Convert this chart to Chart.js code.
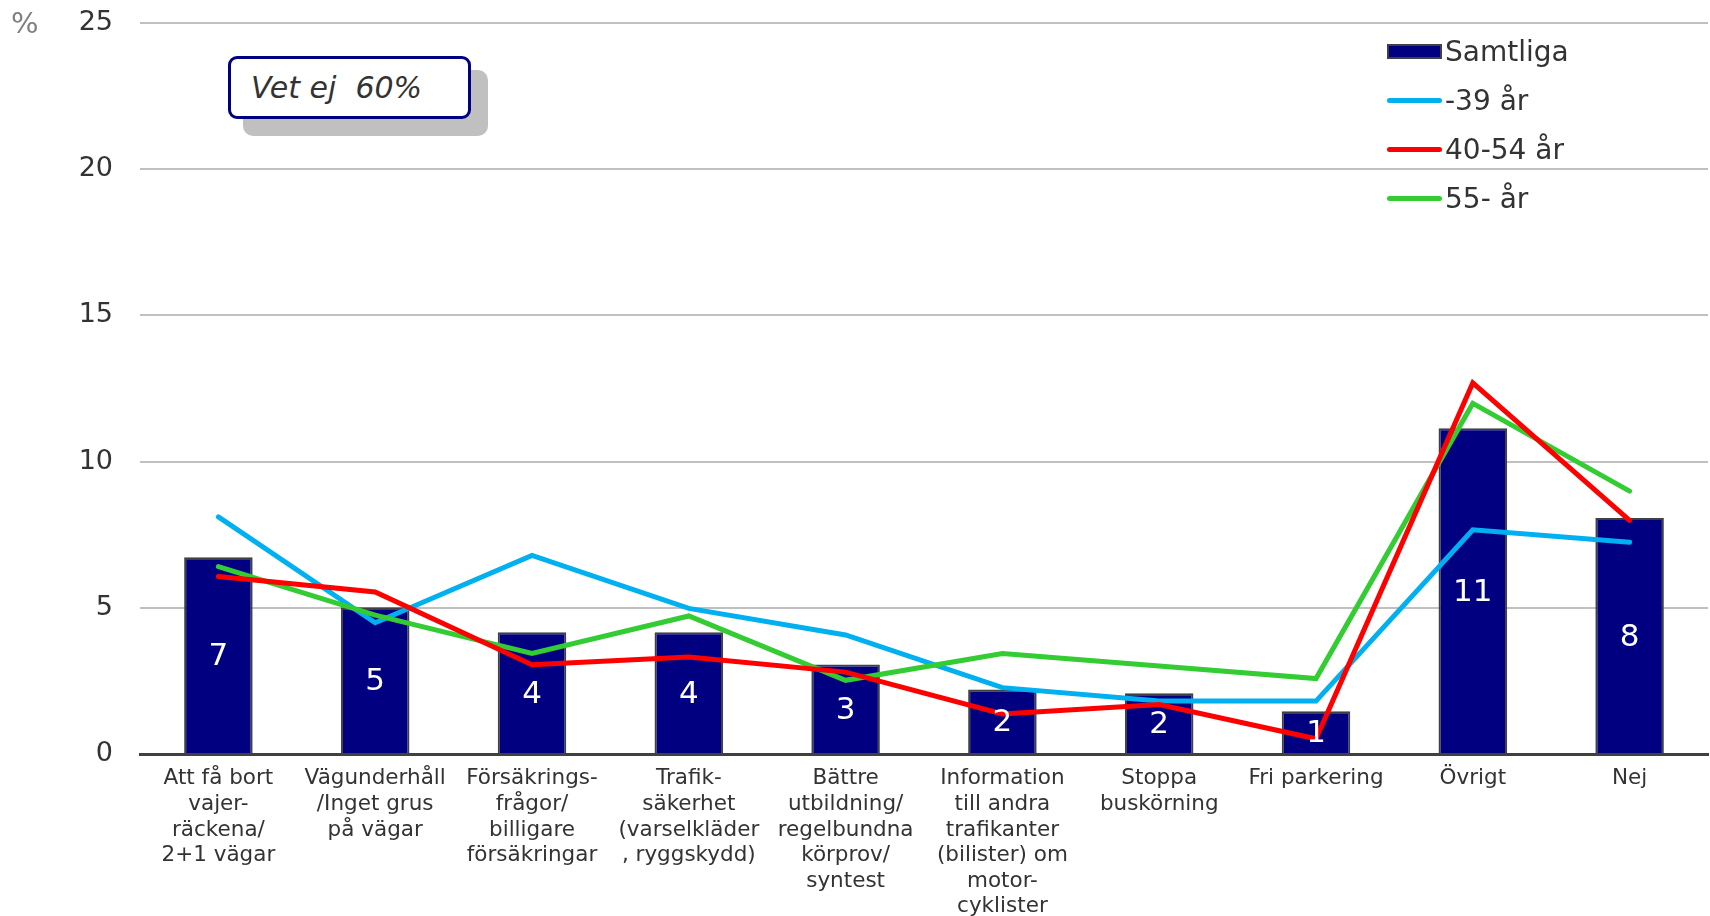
<!DOCTYPE html>
<html>
<head>
<meta charset="utf-8">
<script src="https://cdn.jsdelivr.net/npm/chart.js@4"></script>
<style>
  body { margin: 0; background: #fff; }
  #wrap { position: relative; width: 1710px; height: 916px; font-family: 'DejaVu Sans', Verdana, sans-serif; }
  #pct { position: absolute; left: 11px; top: 6px; font-size: 29px; color: #808080; }
  #note-shadow { position: absolute; left: 243px; top: 70px; width: 245px; height: 66px; background: #c0c0c0; border-radius: 10px; }
  #note { position: absolute; left: 228px; top: 56px; height: 57px; border: 3px solid #000080; border-radius: 9px; background: #fff;
          font-style: italic; font-size: 30px; color: #333; line-height: 57px; padding-left: 20px; width: 217px; white-space: pre; }
  #legend { position: absolute; left: 1387px; top: 27px; }
  .row { height: 49px; display: flex; align-items: center; font-size: 28px; color: #333; }
  .sw { width: 55px; margin-right: 3px; }
</style>
</head>
<body>
<div id="wrap">
  <canvas id="chart" width="1710" height="916"></canvas>
  <div id="pct">%</div>
  <div id="note-shadow"></div>
  <div id="note"></div>
  <div id="legend"></div>
</div>
<script>
const categories = [
  ['Att få bort', 'vajer-', 'räckena/', '2+1 vägar'],
  ['Vägunderhåll', '/Inget grus', 'på vägar'],
  ['Försäkrings-', 'frågor/', 'billigare', 'försäkringar'],
  ['Trafik-', 'säkerhet', '(varselkläder', ', ryggskydd)'],
  ['Bättre', 'utbildning/', 'regelbundna', 'körprov/', 'syntest'],
  ['Information', 'till andra', 'trafikanter', '(bilister) om', 'motor-', 'cyklister'],
  ['Stoppa', 'buskörning'],
  ['Fri parkering'],
  ['Övrigt'],
  ['Nej']
];

// values in %
const samtliga  = [6.73, 5.02, 4.16, 4.16, 3.06, 2.21, 2.08, 1.46, 11.14, 8.07];
const age39     = [8.11, 4.49, 6.79, 4.98, 4.07, 2.27, 1.81, 1.81, 7.67, 7.24];
const age40to54 = [6.07, 5.54, 3.05, 3.32, 2.80, 1.37, 1.69, 0.52, 12.69, 7.99];
const age55     = [6.41, 4.75, 3.44, 4.72, 2.52, 3.44, 3.01, 2.58, 11.99, 8.99];

const yMin = 0, yMax = 25, yStep = 5;
const annotationText = 'Vet ej  60%';

const seriesNames = ['Samtliga', '-39 år', '40-54 år', '55- år'];
const seriesColors = ['#000080', '#00B0F0', '#FF0000', '#33CC33'];

// draws the rounded value in the middle of each bar
const barLabels = {
  id: 'barLabels',
  afterDatasetsDraw(chart) {
    const ctx = chart.ctx;
    const meta = chart.getDatasetMeta(0);
    ctx.save();
    ctx.fillStyle = '#fff';
    ctx.font = '31px "DejaVu Sans"';
    ctx.textAlign = 'center';
    ctx.textBaseline = 'middle';
    meta.data.forEach((bar, i) => {
      const v = chart.data.datasets[0].data[i];
      ctx.fillText(String(Math.round(v)), bar.x, (bar.y + bar.base) / 2 + 2);
    });
    ctx.restore();
  }
};

const lineDs = (label, data, color, order) => ({
  type: 'line',
  label: label,
  data: data,
  borderColor: color,
  backgroundColor: color,
  borderWidth: 5,
  pointRadius: 0,
  tension: 0,
  borderCapStyle: 'round',
  order: order
});

const chart = new Chart(document.getElementById('chart').getContext('2d'), {
  type: 'bar',
  data: {
    labels: categories,
    datasets: [
      {
        label: seriesNames[0],
        data: samtliga,
        backgroundColor: seriesColors[0],
        borderColor: '#404040',
        borderWidth: 2,
        barPercentage: 0.437,
        categoryPercentage: 1,
        order: 10
      },
      lineDs(seriesNames[1], age39, seriesColors[1], 3),
      lineDs(seriesNames[2], age40to54, seriesColors[2], 1),
      lineDs(seriesNames[3], age55, seriesColors[3], 2)
    ]
  },
  options: {
    responsive: false,
    animation: false,
    layout: { padding: { top: 23, right: 2, left: 0, bottom: 0 } },
    plugins: {
      legend: { display: false },
      tooltip: { enabled: false }
    },
    scales: {
      x: {
        grid: { display: false },
        border: { display: true, color: '#404040', width: 3 },
        ticks: {
          color: '#333',
          font: { family: 'DejaVu Sans', size: 21.5, lineHeight: 1.19 },
          maxRotation: 0,
          autoSkip: false,
          padding: 4
        },
        afterFit(scale) { scale.height = 162; }
      },
      y: {
        min: yMin,
        max: yMax,
        // invisible tick marks keep the labels off the plot without extra top padding
        grid: { color: '#c0c0c0', lineWidth: 2, drawTicks: true, tickLength: 27, tickColor: 'rgba(0,0,0,0)' },
        border: { display: false },
        ticks: {
          stepSize: yStep,
          color: '#333',
          font: { family: 'DejaVu Sans', size: 27 },
          padding: 0
        },
        afterFit(scale) { scale.width = 140; }
      }
    }
  },
  plugins: [barLabels]
});

// legend built from the series
const legend = document.getElementById('legend');
seriesNames.forEach((name, i) => {
  const row = document.createElement('div');
  row.className = 'row';
  const sw = document.createElement('div');
  sw.className = 'sw';
  if (i === 0) {
    sw.style.height = '15px';
    sw.style.background = seriesColors[0];
    sw.style.border = '2px solid #404040';
    sw.style.boxSizing = 'border-box';
  } else {
    sw.style.height = '5px';
    sw.style.background = seriesColors[i];
    sw.style.borderRadius = '3px';
  }
  const txt = document.createElement('span');
  txt.textContent = name;
  row.appendChild(sw);
  row.appendChild(txt);
  legend.appendChild(row);
});
document.getElementById('note').textContent = annotationText;
</script>
</body>
</html>
